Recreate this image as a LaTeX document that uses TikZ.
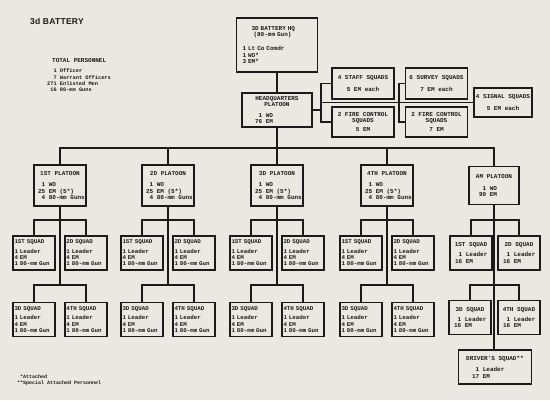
\documentclass[tikz,border=0pt]{standalone}
\usepackage{fontspec}
\newfontfamily\tw{Liberation Mono}
\newfontfamily\hd[LetterSpace=3]{Liberation Sans}
\definecolor{paper}{HTML}{EAE8E0}
\definecolor{ink}{HTML}{1A1A1A}
\newcommand\ph[1]{\phantom{#1}}
\begin{document}
\begin{tikzpicture}[x=1pt,y=-1pt,
 every node/.style={text=ink},
 tx/.style={font=\tw\bfseries\fontsize{6}{6.4}\selectfont},
 box/.style={tx,draw=ink,line width=1.3pt,inner sep=1.5pt},
 sq/.style={box,font=\tw\bfseries\fontsize{5.8}{6.3}\selectfont,align=left,text width=39pt,minimum height=34pt,inner xsep=1.5pt},
 sqc/.style={box,align=center,minimum width=42pt,minimum height=34pt,inner sep=0pt},
 pl/.style={box,align=center,minimum width=52pt,minimum height=41pt,inner sep=0pt},
 hs/.style={box,align=center,minimum width=62pt,minimum height=31pt,inner sep=0pt},
 wire/.style={draw=ink,line width=1.7pt}
]
\fill[paper] (0,0) rectangle (550,400);
\useasboundingbox (0,0) rectangle (550,400);

% title and notes
\node[anchor=west,inner sep=0pt,font=\hd\bfseries\fontsize{8.5}{10}\selectfont] (ttl) at (30,21) {3d BATTERY};
\node[tx,align=left,anchor=north west,inner sep=0pt] (tot) at (47,58)
 {\hspace*{5pt}TOTAL PERSONNEL\\[4pt]
  {\fontsize{5.3}{6.5}\selectfont\ph{22}1 Officer}\\
  {\fontsize{5.3}{6.5}\selectfont\ph{22}7 Warrant Officers}\\
  {\fontsize{5.3}{6.5}\selectfont 271 Enlisted Men}\\
  {\fontsize{5.3}{6.5}\selectfont\ph{2}16 80-mm Guns}};
\node[align=left,anchor=north west,inner sep=0pt,font=\tw\bfseries\fontsize{5}{6}\selectfont] (fn) at (17,375)
 {\ph{*}*Attached\\**Special Attached Personnel};

% headquarters
\node[box,align=left,text width=69pt,inner xsep=6pt,minimum height=54pt] (hqb) at (277,45)
 {\hspace*{9pt}3D BATTERY HQ\\\hspace*{11pt}(80-mm Gun)\\[8pt]1 Lt Co Comdr\\1 WO*\\3 EM*};
\node[box,align=center,minimum width=70pt,minimum height=34pt,inner sep=0pt] (hqp) at (277,110)
 {HEADQUARTERS\\PLATOON\\[4pt]\makebox[44pt][l]{\ph{7}1 WO}\\\makebox[44pt][l]{76 EM}};
\node[hs] (staff) at (363,83.5) {4 STAFF SQUADS\\[5pt]5 EM each};
\node[hs,minimum height=30pt] (fc1) at (363,122) {2 FIRE CONTROL\\SQUADS\\[3pt]5 EM};
\node[hs] (sur) at (436.5,83.5) {6 SURVEY SQUADS\\[5pt]7 EM each};
\node[hs,minimum height=30pt] (fc2) at (436.5,122) {2 FIRE CONTROL\\SQUADS\\[3pt]7 EM};
\node[hs,minimum width=58pt,minimum height=29pt] (sig) at (503,102.5) {4 SIGNAL SQUADS\\[5pt]5 EM each};

\coordinate (bx1) at (321,0);
\coordinate (bx2) at (399,0);
\draw[wire] (hqb.south) -- (hqp.north);
\draw[wire] (hqp.east) -- (hqp.east -| bx1);
\draw[wire] (staff.west) -- (staff.west -| bx1) -- (fc1.west -| bx1) -- (fc1.west);
\draw[wire] (sig.west) -- (sig.west -| bx1);
\draw[wire] (sur.west) -- (sur.west -| bx2) -- (fc2.west -| bx2) -- (fc2.west);

% platoons and squads
\coordinate (bus) at (0,148);
\coordinate (r1) at (0,220);
\coordinate (r2) at (0,285);
\foreach \i/\X/\nm in {1/60/1ST,2/168/2D,3/277/3D,4/387/4TH}{
 \node[pl] (p\i) at (\X,185.5)
  {\nm\ PLATOON\\[5pt]\makebox[44pt][l]{\ph{2}1 WO}\\\makebox[44pt][l]{25 EM (5*)}\\\makebox[44pt][l]{\ph{2}4 80-mm Guns}};
 \node[sq] (a\i) at (\X-26,253) {1ST SQUAD\\[3pt]1 Leader\\4 EM\\1 80-mm Gun};
 \node[sq] (b\i) at (\X+26,253) {2D SQUAD\\[3pt]1 Leader\\4 EM\\1 80-mm Gun};
 \node[sq] (c\i) at (\X-26,319.5) {3D SQUAD\\[3pt]1 Leader\\4 EM\\1 80-mm Gun};
 \node[sq] (d\i) at (\X+26,319.5) {4TH SQUAD\\[3pt]1 Leader\\4 EM\\1 80-mm Gun};
 \draw[wire] (p\i.south) -- (p\i.south |- r2);
}
\node[pl,minimum width=50pt,minimum height=38pt] (p5) at (494,185.5)
 {AM PLATOON\\[6pt]\makebox[30pt][l]{\ph{9}1 WO}\\\makebox[30pt][l]{90 EM}};
\node[sqc] (a5) at (471,253) {1ST SQUAD\\[4pt]\makebox[32pt][l]{\ph{1}1 Leader}\\\makebox[32pt][l]{16 EM}};
\node[sqc] (b5) at (519,253) {2D SQUAD\\[4pt]\makebox[32pt][l]{\ph{1}1 Leader}\\\makebox[32pt][l]{16 EM}};
\node[sqc] (c5) at (470,317.5) {3D SQUAD\\[4pt]\makebox[32pt][l]{\ph{1}1 Leader}\\\makebox[32pt][l]{16 EM}};
\node[sqc] (d5) at (519,317.5) {4TH SQUAD\\[4pt]\makebox[32pt][l]{\ph{1}1 Leader}\\\makebox[32pt][l]{16 EM}};
\node[box,align=center,minimum width=73pt,minimum height=34pt,inner sep=0pt] (dr) at (495,367)
 {DRIVER'S SQUAD**\\[5pt]\makebox[46pt][l]{\ph{1}1 Leader}\\\makebox[46pt][l]{17 EM}};
\draw[wire] (p5.south) -- (p5.south |- dr.north);

\draw[wire] (hqp.south) -- (hqp.south |- p3.north);
\draw[wire] (p1.north) -- (p1.north |- bus) -- (p5.north |- bus) -- (p5.north);
\foreach \i in {2,4}{\draw[wire] (p\i.north) -- (p\i.north |- bus);}
\foreach \i in {1,...,5}{
 \draw[wire] (a\i.north) -- (a\i.north |- r1) -- (b\i.north |- r1) -- (b\i.north);
 \draw[wire] (c\i.north) -- (c\i.north |- r2) -- (d\i.north |- r2) -- (d\i.north);
}
\end{tikzpicture}
\end{document}
